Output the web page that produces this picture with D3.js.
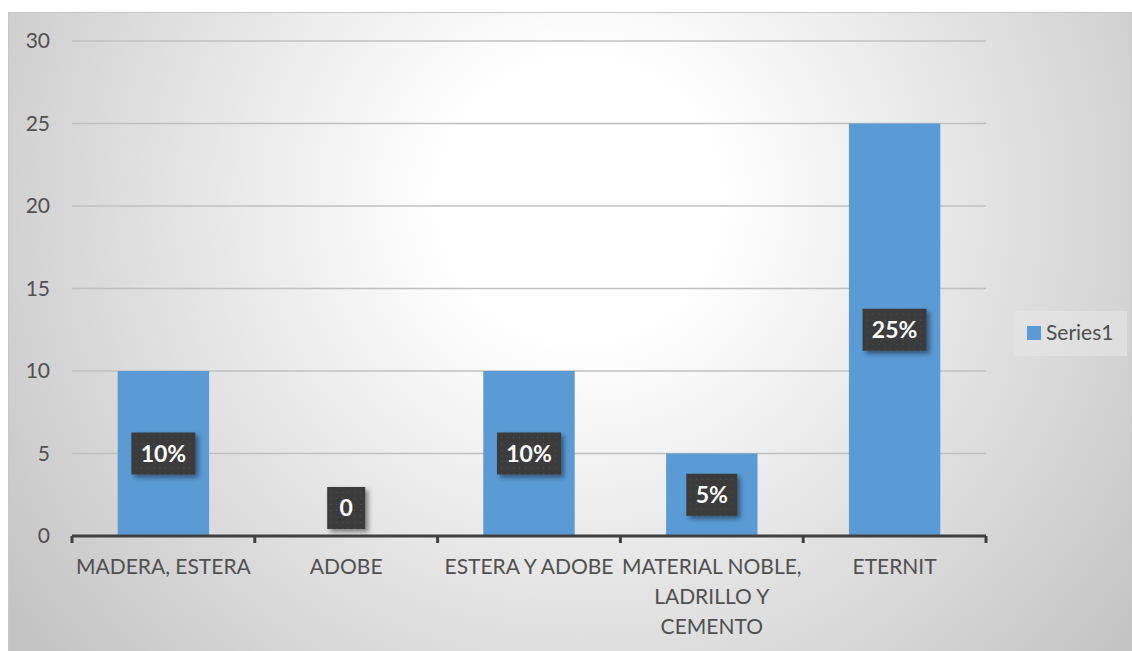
<html lang="en">
<head>
<meta charset="UTF-8">
<title>Chart</title>
<style>
  body { margin: 0; background: #fff; }
  svg text { font-family: Lato, "Open Sans", sans-serif; }
</style>
</head>
<body>
<script src="https://d3js.org/d3.v7.min.js"></script>
<div id="my_dataviz"></div>
<script>
// data
var categories = ["MADERA, ESTERA", "ADOBE", "ESTERA Y ADOBE", "MATERIAL NOBLE, LADRILLO Y CEMENTO", "ETERNIT"]
var categoryLines = [["MADERA, ESTERA"], ["ADOBE"], ["ESTERA Y ADOBE"], ["MATERIAL NOBLE,", "LADRILLO Y", "CEMENTO"], ["ETERNIT"]]
var values = [10, 0, 10, 5, 25]
var labels = ["10%", "0", "10%", "5%", "25%"]
var yTicks = [0, 5, 10, 15, 20, 25, 30]
var seriesName = "Series1"

var width = 1132
var height = 651
var margin = { left: 72, right: 146, top: 41, bottom: 115 }

var svg = d3.select("#my_dataviz")
  .append("svg")
  .attr("width", width)
  .attr("height", height)

var defs = svg.append("defs")

// background gradient
var grad = defs.append("radialGradient")
  .attr("id", "bg")
  .attr("gradientUnits", "userSpaceOnUse")
  .attr("cx", 580).attr("cy", 200).attr("r", 700)
grad.append("stop").attr("offset", "0").attr("stop-color", "#ffffff")
grad.append("stop").attr("offset", "0.2").attr("stop-color", "#ffffff")
grad.append("stop").attr("offset", "1").attr("stop-color", "#c4c4c4")

// shadow for the labels
var f = defs.append("filter").attr("id", "shadow").attr("x", "-30%").attr("y", "-30%").attr("width", "170%").attr("height", "170%")
f.append("feDropShadow").attr("dx", 3).attr("dy", 3).attr("stdDeviation", 2.5).attr("flood-color", "#000").attr("flood-opacity", 0.45)

// dotted texture
var pat = defs.append("pattern").attr("id", "dots")
  .attr("patternUnits", "userSpaceOnUse").attr("width", 6).attr("height", 6)
pat.append("rect").attr("width", 6).attr("height", 6).attr("fill", "#3a3a3a")
pat.append("rect").attr("x", 2).attr("y", 2).attr("width", 1).attr("height", 1).attr("fill", "#555")

// chart area
svg.append("rect")
  .attr("x", 8.5).attr("y", 12.5)
  .attr("width", width - 9).attr("height", height - 12)
  .attr("fill", "url(#bg)")
  .attr("stroke", "#c8c8c8")

var x = d3.scaleBand()
  .domain(categories)
  .range([margin.left, width - margin.right])
  .paddingInner(0.5)
  .paddingOuter(0.25)

var y = d3.scaleLinear()
  .domain([0, 30])
  .range([height - margin.bottom, margin.top])

// gridlines
svg.append("g")
  .selectAll("line")
  .data(yTicks.filter(function (d) { return d > 0 }))
  .enter()
  .append("line")
  .attr("x1", margin.left).attr("x2", width - margin.right)
  .attr("y1", function (d) { return y(d) }).attr("y2", function (d) { return y(d) })
  .attr("stroke", "#c0c0c0")
  .attr("stroke-width", 1.5)

// y labels
svg.append("g")
  .selectAll("text")
  .data(yTicks)
  .enter()
  .append("text")
  .attr("x", 50)
  .attr("y", function (d) { return y(d) })
  .attr("dy", "0.35em")
  .attr("text-anchor", "end")
  .attr("fill", "#505050")
  .style("font-size", "21px")
  .text(function (d) { return d })

// bars
svg.append("g")
  .selectAll("rect")
  .data(values)
  .enter()
  .append("rect")
  .attr("x", function (d, i) { return x(categories[i]) })
  .attr("y", function (d) { return y(d) })
  .attr("width", x.bandwidth())
  .attr("height", function (d) { return y(0) - y(d) })
  .attr("fill", "#5b9bd5")

// x axis
var xr = x.range()
var step = x.step()
var axis = svg.append("g")
axis.append("line")
  .attr("x1", xr[0]).attr("x2", xr[1])
  .attr("y1", y(0)).attr("y2", y(0))
  .attr("stroke", "#404040").attr("stroke-width", 3)
axis.selectAll(".tick")
  .data(d3.range(categories.length + 1))
  .enter()
  .append("line")
  .attr("x1", function (i) { return xr[0] + i * step }).attr("x2", function (i) { return xr[0] + i * step })
  .attr("y1", y(0)).attr("y2", y(0) + 7)
  .attr("stroke", "#404040").attr("stroke-width", 3)

// category labels
var cl = svg.append("g")
  .selectAll("text")
  .data(categoryLines)
  .enter()
  .append("text")
  .attr("text-anchor", "middle")
  .attr("fill", "#505050")
  .style("font-size", "21px")
  .attr("x", function (d, i) { return x(categories[i]) + x.bandwidth() / 2 })
  .attr("y", y(0) + 38)
cl.selectAll("tspan")
  .data(function (d) { return d })
  .enter()
  .append("tspan")
  .attr("x", function () { return d3.select(this.parentNode).attr("x") })
  .attr("dy", function (d, i) { return i === 0 ? 0 : 30 })
  .text(function (d) { return d })

// data labels
var lab = svg.append("g")
  .selectAll("g")
  .data(values)
  .enter()
  .append("g")
  .attr("transform", function (d, i) {
    var cy = d > 0 ? y(d / 2) : y(0) - 28
    return "translate(" + (x(categories[i]) + x.bandwidth() / 2) + "," + cy + ")"
  })
lab.append("rect")
  .attr("x", function (d, i) { var w = labels[i].length * 13 + 25; return -w / 2 })
  .attr("y", -21)
  .attr("width", function (d, i) { return labels[i].length * 13 + 25 })
  .attr("height", 42)
  .attr("fill", "url(#dots)")
  .attr("filter", "url(#shadow)")
lab.append("text")
  .attr("text-anchor", "middle")
  .attr("dy", "0.36em")
  .attr("fill", "#ffffff")
  .style("font-size", "23px")
  .style("font-weight", "bold")
  .text(function (d, i) { return labels[i] })

// legend
var leg = svg.append("g").attr("transform", "translate(1014,311)")
leg.append("rect").attr("width", 113).attr("height", 45).attr("fill", "#e6e6e6").attr("opacity", 0.6)
leg.append("rect").attr("x", 13).attr("y", 15).attr("width", 14).attr("height", 14).attr("fill", "#5b9bd5")
leg.append("text").attr("x", 32).attr("y", 22).attr("dy", "0.35em")
  .attr("fill", "#505050").style("font-size", "21px").text(seriesName)
</script>
</body>
</html>
